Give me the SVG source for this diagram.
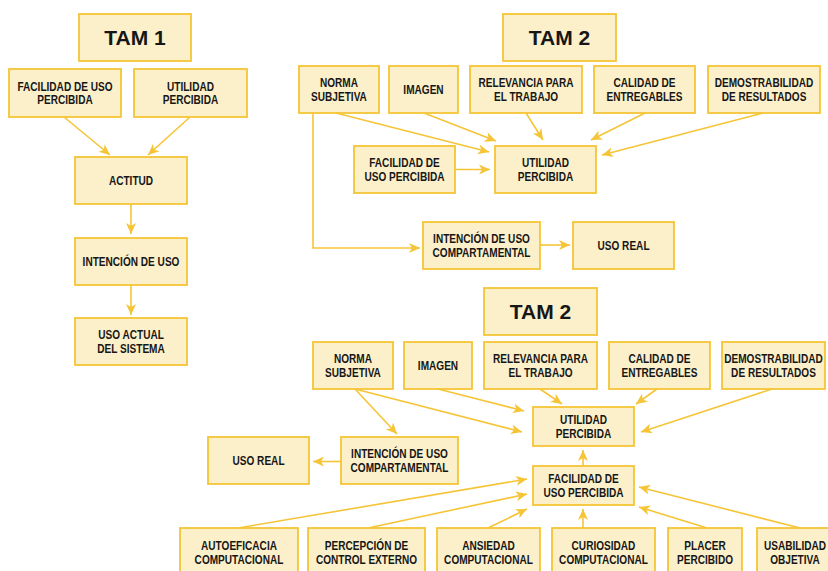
<svg xmlns="http://www.w3.org/2000/svg" width="828" height="571" viewBox="0 0 828 571">
  <defs>
    <marker id="arrow" markerUnits="userSpaceOnUse" markerWidth="12" markerHeight="12" viewBox="0 0 12 12" refX="11" refY="6" orient="auto">
      <path d="M0,1 L11,6 L0,11 L3,6 Z" fill="#F5C537"/>
    </marker>
    <style>
      .box rect { fill: #FCF0CB; stroke: #F5C537; stroke-width: 1.8; }
      .box text { font-family: "Liberation Sans", Arial, sans-serif; font-weight: bold; font-size: 12px; fill: #161616; text-anchor: middle;
                  transform-box: fill-box; transform-origin: center; transform: scaleX(0.84); }
      .title text { font-size: 21px; transform: none; }
      .edges line, .edges polyline { stroke: #F5C537; stroke-width: 1.6; fill: none; marker-end: url(#arrow); }
    </style>
  </defs>
  <rect width="828" height="571" fill="#ffffff"/>

  <!-- TAM 1 -->
  <g id="tam1-title" class="box title"><rect x="79" y="14" width="112" height="47"/><text x="135" y="45">TAM 1</text></g>
  <g id="tam1-facilidad" class="box"><rect x="9" y="69" width="112" height="48"/><text x="65" y="90.7">FACILIDAD DE USO</text><text x="65" y="104.5">PERCIBIDA</text></g>
  <g id="tam1-utilidad" class="box"><rect x="134" y="69" width="113" height="48"/><text x="190.5" y="90.7">UTILIDAD</text><text x="190.5" y="104.5">PERCIBIDA</text></g>
  <g id="tam1-actitud" class="box"><rect x="75" y="157" width="112" height="47"/><text x="131" y="184.8">ACTITUD</text></g>
  <g id="tam1-intencion" class="box"><rect x="75" y="238" width="112" height="47"/><text x="131" y="265.8">INTENCIÓN DE USO</text></g>
  <g id="tam1-uso-actual" class="box"><rect x="75" y="318" width="112" height="47"/><text x="131" y="339">USO ACTUAL</text><text x="131" y="352.8">DEL SISTEMA</text></g>

  <!-- TAM 2 (upper) -->
  <g id="tam2a-title" class="box title"><rect x="503" y="14" width="113" height="47"/><text x="559.5" y="45">TAM 2</text></g>
  <g id="tam2a-norma" class="box"><rect x="299" y="66" width="80" height="47"/><text x="339" y="87.2">NORMA</text><text x="339" y="101">SUBJETIVA</text></g>
  <g id="tam2a-imagen" class="box"><rect x="389" y="66" width="69" height="47"/><text x="423.5" y="94">IMAGEN</text></g>
  <g id="tam2a-relevancia" class="box"><rect x="470" y="66" width="112" height="47"/><text x="526" y="87.2">RELEVANCIA PARA</text><text x="526" y="101">EL TRABAJO</text></g>
  <g id="tam2a-calidad" class="box"><rect x="594" y="66" width="101" height="47"/><text x="644.5" y="87.2">CALIDAD DE</text><text x="644.5" y="101">ENTREGABLES</text></g>
  <g id="tam2a-demostrabilidad" class="box"><rect x="708" y="66" width="112" height="47"/><text x="764" y="87.2">DEMOSTRABILIDAD</text><text x="764" y="101">DE RESULTADOS</text></g>
  <g id="tam2a-facilidad" class="box"><rect x="354" y="146" width="101" height="47"/><text x="404.5" y="167.2">FACILIDAD DE</text><text x="404.5" y="181">USO PERCIBIDA</text></g>
  <g id="tam2a-utilidad" class="box"><rect x="495" y="146" width="101" height="47"/><text x="545.5" y="167.2">UTILIDAD</text><text x="545.5" y="181">PERCIBIDA</text></g>
  <g id="tam2a-intencion" class="box"><rect x="423" y="222" width="117" height="47"/><text x="481.5" y="243.2">INTENCIÓN DE USO</text><text x="481.5" y="257">COMPARTAMENTAL</text></g>
  <g id="tam2a-uso-real" class="box"><rect x="573" y="222" width="101" height="47"/><text x="623.5" y="250">USO REAL</text></g>

  <!-- TAM 2 (lower) -->
  <g id="tam2b-title" class="box title"><rect x="484" y="288" width="113" height="47"/><text x="540.5" y="319">TAM 2</text></g>
  <g id="tam2b-norma" class="box"><rect x="313" y="342" width="80" height="47"/><text x="353" y="363.2">NORMA</text><text x="353" y="377">SUBJETIVA</text></g>
  <g id="tam2b-imagen" class="box"><rect x="404" y="342" width="68" height="47"/><text x="438" y="370">IMAGEN</text></g>
  <g id="tam2b-relevancia" class="box"><rect x="484" y="342" width="113" height="47"/><text x="540.5" y="363.2">RELEVANCIA PARA</text><text x="540.5" y="377">EL TRABAJO</text></g>
  <g id="tam2b-calidad" class="box"><rect x="609" y="342" width="101" height="47"/><text x="659.5" y="363.2">CALIDAD DE</text><text x="659.5" y="377">ENTREGABLES</text></g>
  <g id="tam2b-demostrabilidad" class="box"><rect x="722" y="342" width="103" height="47"/><text x="773.5" y="363.2">DEMOSTRABILIDAD</text><text x="773.5" y="377">DE RESULTADOS</text></g>
  <g id="tam2b-utilidad" class="box"><rect x="533" y="407" width="101" height="39"/><text x="583.5" y="424.2">UTILIDAD</text><text x="583.5" y="438">PERCIBIDA</text></g>
  <g id="tam2b-uso-real" class="box"><rect x="208" y="437" width="101" height="47"/><text x="258.5" y="465">USO REAL</text></g>
  <g id="tam2b-intencion" class="box"><rect x="341" y="437" width="117" height="47"/><text x="399.5" y="458.2">INTENCIÓN DE USO</text><text x="399.5" y="472">COMPARTAMENTAL</text></g>
  <g id="tam2b-facilidad" class="box"><rect x="533" y="466" width="101" height="39"/><text x="583.5" y="483.2">FACILIDAD DE</text><text x="583.5" y="497">USO PERCIBIDA</text></g>
  <g id="tam2b-autoeficacia" class="box"><rect x="180" y="528" width="118" height="60"/><text x="239" y="550">AUTOEFICACIA</text><text x="239" y="563.7">COMPUTACIONAL</text></g>
  <g id="tam2b-percepcion" class="box"><rect x="308" y="528" width="117" height="60"/><text x="366.5" y="550">PERCEPCIÓN DE</text><text x="366.5" y="563.7">CONTROL EXTERNO</text></g>
  <g id="tam2b-ansiedad" class="box"><rect x="437" y="528" width="103" height="60"/><text x="488.5" y="550">ANSIEDAD</text><text x="488.5" y="563.7">COMPUTACIONAL</text></g>
  <g id="tam2b-curiosidad" class="box"><rect x="552" y="528" width="103" height="60"/><text x="603.5" y="550">CURIOSIDAD</text><text x="603.5" y="563.7">COMPUTACIONAL</text></g>
  <g id="tam2b-placer" class="box"><rect x="668" y="528" width="74" height="60"/><text x="705" y="550">PLACER</text><text x="705" y="563.7">PERCIBIDO</text></g>
  <g id="tam2b-usabilidad" class="box"><rect x="757" y="528" width="80" height="60"/><text x="795" y="550">USABILIDAD</text><text x="795" y="563.7">OBJETIVA</text></g>

  <!-- connectors -->
  <g id="edges" class="edges">
    <!-- TAM 1 -->
    <line x1="64" y1="117" x2="110" y2="155"/>
    <line x1="190" y1="117" x2="148" y2="155"/>
    <line x1="131" y1="204" x2="131" y2="234"/>
    <line x1="131" y1="285" x2="131" y2="315"/>
    <!-- TAM 2 (upper) -->
    <polyline points="313,113 313,248 420,248"/>
    <line x1="336" y1="113" x2="489" y2="152"/>
    <line x1="424" y1="113" x2="496" y2="141"/>
    <line x1="526" y1="113" x2="543" y2="140"/>
    <line x1="645" y1="113" x2="591" y2="140"/>
    <line x1="763" y1="113" x2="602" y2="155"/>
    <line x1="455" y1="169.5" x2="490" y2="169.5"/>
    <line x1="540" y1="245" x2="570" y2="245"/>
    <!-- TAM 2 (lower) -->
    <line x1="355" y1="389" x2="522" y2="432"/>
    <line x1="355" y1="389" x2="397" y2="434"/>
    <line x1="438" y1="389" x2="524" y2="411"/>
    <line x1="540" y1="389" x2="562" y2="404"/>
    <line x1="657" y1="389" x2="636" y2="404"/>
    <line x1="772" y1="389" x2="641" y2="432"/>
    <line x1="341" y1="461.5" x2="313" y2="461.5"/>
    <line x1="583" y1="466" x2="583" y2="450"/>
    <line x1="238" y1="528" x2="527" y2="479"/>
    <line x1="368" y1="528" x2="527" y2="494"/>
    <line x1="488" y1="528" x2="527" y2="509"/>
    <line x1="583" y1="528" x2="583" y2="509"/>
    <line x1="707" y1="528" x2="639" y2="507"/>
    <line x1="800" y1="528" x2="639" y2="487"/>
  </g>
</svg>
